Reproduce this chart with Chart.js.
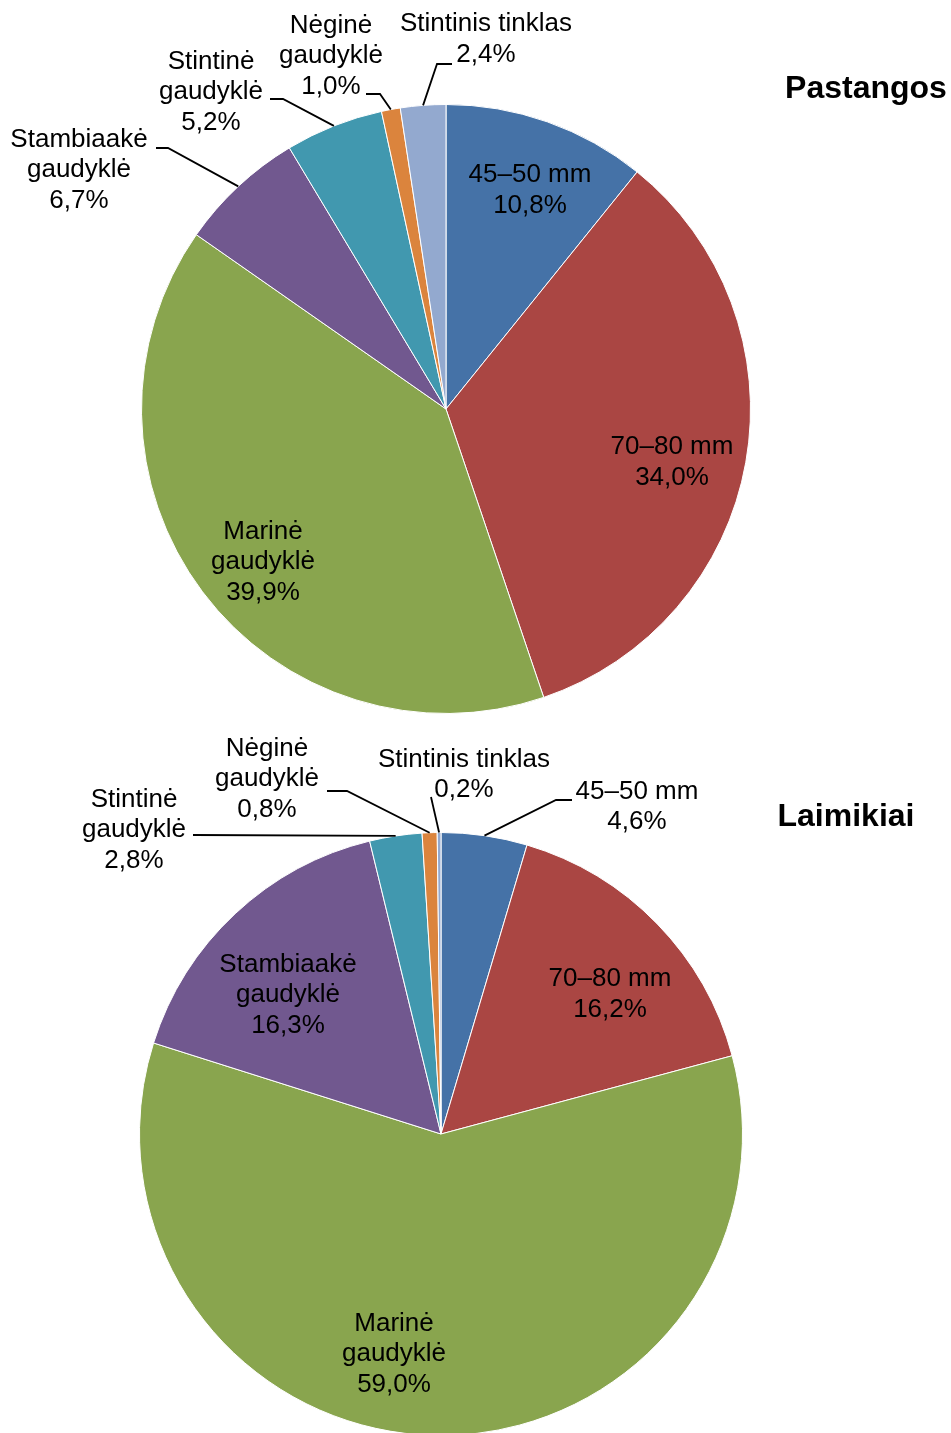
<!DOCTYPE html>
<html>
<head>
<meta charset="utf-8">
<script src="https://cdn.jsdelivr.net/npm/chart.js@4/dist/chart.umd.min.js"></script>
<style>
  html, body { margin:0; padding:0; background:#fff; overflow:hidden; }
  .wrap { position:absolute; left:0; width:951px; height:720px; }
  #effort { top:0; }
  #catch { top:720px; }
</style>
</head>
<body>
<div class="wrap" id="effort"><canvas id="chartEffort" width="951" height="720"></canvas></div>
<div class="wrap" id="catch"><canvas id="chartCatch" width="951" height="720"></canvas></div>
<script>
// gear categories (shared by both pies)
const categories = [
  ['45–50 mm'],
  ['70–80 mm'],
  ['Marinė', 'gaudyklė'],
  ['Stambiaakė', 'gaudyklė'],
  ['Stintinė', 'gaudyklė'],
  ['Nėginė', 'gaudyklė'],
  ['Stintinis tinklas']
];
// share of fishing effort, %
const effortValues = [10.8, 34.0, 39.9, 6.7, 5.2, 1.0, 2.4];
// share of catch, %
const catchValues = [4.6, 16.2, 59.0, 16.3, 2.8, 0.8, 0.2];

const colors = ['#4572A7', '#AA4643', '#89A54E', '#71588F', '#4198AF', '#DB843D', '#93A9CF'];

const FONT = '"Liberation Sans", Arial, sans-serif';
const LINE_H = 30.5;

// label placement relative to pie centre; elbow/tail for leader lines
const effortLabels = [
  {dx:84, dy:-218.5},
  {dx:226, dy:53.5},
  {dx:-183, dy:153},
  {dx:-367, dy:-239, elbow:[-278,-261], tail:-290},
  {dx:-235, dy:-317, elbow:[-163,-310], tail:-176},
  {dx:-115, dy:-353, elbow:[-66,-315], tail:-80},
  {dx:40, dy:-369.5, elbow:[-9,-345], tail:6}
];
const catchLabels = [
  {dx:196, dy:-327, elbow:[115,-334], tail:131},
  {dx:169, dy:-139.5},
  {dx:-47, dy:220},
  {dx:-153, dy:-139},
  {dx:-307, dy:-304, elbow:[-248,-299], tail:-248},
  {dx:-174, dy:-355, elbow:[-94,-343], tail:-114},
  {dx:23, dy:-359, elbow:[-10,-337], tail:-10}
];

function pct(v){ return v.toFixed(1).replace('.', ',') + '%'; }

const sliceLabels = {
  id: 'sliceLabels',
  afterDatasetsDraw(chart, args, opts){
    const ctx = chart.ctx;
    const meta = chart.getDatasetMeta(0);
    const values = chart.data.datasets[0].data;
    ctx.save();
    meta.data.forEach((arc, i) => {
      const p = arc.getProps(['x','y','startAngle','endAngle','outerRadius'], true);
      const lay = opts.layout[i];
      const cx = p.x, cy = p.y;
      if (lay.elbow) {
        const mid = (p.startAngle + p.endAngle) / 2;
        const ex = cx + Math.cos(mid) * p.outerRadius;
        const ey = cy + Math.sin(mid) * p.outerRadius;
        ctx.beginPath();
        ctx.moveTo(ex, ey);
        ctx.lineTo(cx + lay.elbow[0], cy + lay.elbow[1]);
        ctx.lineTo(cx + lay.tail, cy + lay.elbow[1]);
        ctx.strokeStyle = '#000';
        ctx.lineWidth = 1.8;
        ctx.stroke();
      }
      const lines = chart.data.labels[i].concat([pct(values[i])]);
      ctx.fillStyle = '#000';
      ctx.font = '26px ' + FONT;
      ctx.textAlign = 'center';
      ctx.textBaseline = 'middle';
      const top = cy + lay.dy - (lines.length - 1) * LINE_H / 2;
      lines.forEach((t, k) => ctx.fillText(t, cx + lay.dx, top + k * LINE_H));
    });
    // chart heading at the right
    ctx.font = 'bold 32px ' + FONT;
    ctx.textAlign = 'center';
    ctx.fillText(opts.heading, opts.headX, opts.headY);
    ctx.restore();
  }
};

function makePie(id, values, layout, heading, headX, headY, padding){
  return new Chart(document.getElementById(id), {
    type: 'pie',
    data: {
      labels: categories,
      datasets: [{
        data: values,
        backgroundColor: colors,
        borderColor: '#ffffff',
        borderWidth: 1
      }]
    },
    options: {
      responsive: false,
      animation: false,
      layout: { padding: padding },
      plugins: {
        legend: { display: false },
        tooltip: { enabled: false },
        sliceLabels: { layout: layout, heading: heading, headX: headX, headY: headY }
      }
    },
    plugins: [sliceLabels]
  });
}

makePie('chartEffort', effortValues, effortLabels, 'Pastangos', 866, 89,
  {left:141, right:200, top:104, bottom:6});
makePie('chartCatch', catchValues, catchLabels, 'Laimikiai', 846, 97,
  {left:139, right:208, top:112, bottom:4});
</script>
</body>
</html>
